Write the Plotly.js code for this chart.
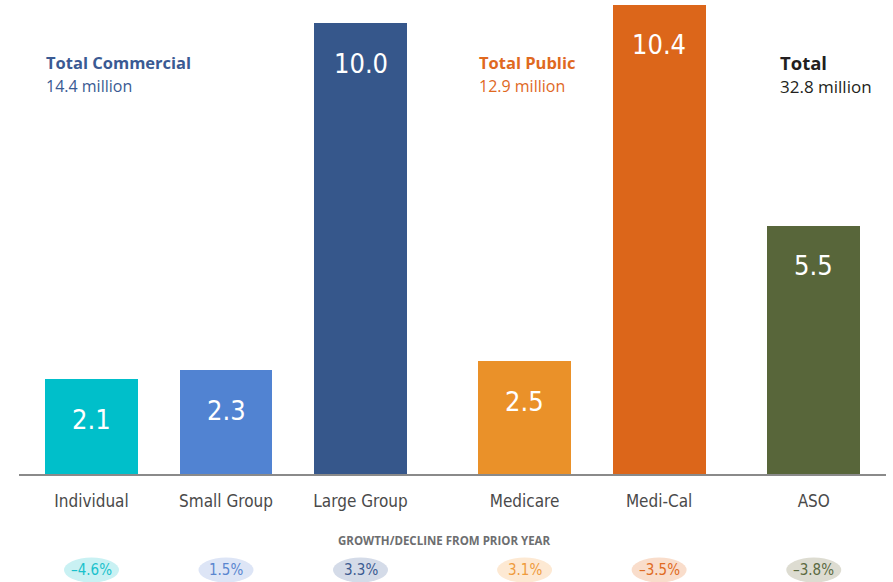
<!DOCTYPE html>
<html>
<head>
<meta charset="utf-8">
<script src="https://cdn.plot.ly/plotly-3.0.1.min.js"></script>
<style>html,body{margin:0;padding:0;background:#fff;}#chart{width:893px;height:582px;}</style>
</head>
<body>
<div id="chart"></div>
<script>
// ---- data ----
const categories = ["Individual", "Small Group", "Large Group", "Medicare", "Medi-Cal", "ASO"];
const enrollment = [2.1, 2.3, 10.0, 2.5, 10.4, 5.5];          // millions
const growth = [-4.6, 1.5, 3.3, 3.1, -3.5, -3.8];              // % change from prior year
const groupTitles = ["Total Commercial", "Total Public", "Total"];
const groupTotals = [14.4, 12.9, 32.8];                        // millions

// ---- layout / style ----
const slots = [0, 1, 2, 3.22, 4.22, 5.37];   // category placement with group gaps
const barColors = ["#00bfca", "#5183d2", "#36578b", "#ea9129", "#dc661a", "#58663a"];
const pillFill = ["#c9f1f3", "#dde5f6", "#d4dbe8", "#fde9d3", "#f9ddcb", "#dddcd1"];
const pillText = ["#1ac1cc", "#5a85cf", "#3a5a90", "#ef9b3c", "#e06a22", "#5b6a3f"];
const titleColors = ["#3a5a93", "#e0691f", "#231f20"];
const titleAnchor = [0, 3, 5];
const titleShift = [-1, -1, 11];
const barWidth = 0.691;
const narrow = "DejaVu Sans Condensed, Liberation Sans Narrow, sans-serif";

function fmtPct(v) { return (v < 0 ? "\u2013" + Math.abs(v).toFixed(1) : v.toFixed(1)) + "%"; }

const trace = {
  type: "bar",
  x: slots,
  y: enrollment,
  width: barWidth,
  marker: { color: barColors, line: { width: 0 } },
  hoverinfo: "skip"
};

const annotations = [];
// value labels inside bars
enrollment.forEach((v, i) => {
  annotations.push({
    x: slots[i], y: v, xref: "x", yref: "y",
    text: v.toFixed(1), showarrow: false,
    yanchor: "middle", yshift: -40,
    font: { family: narrow, size: 27, color: "#ffffff" }
  });
});
// growth pills text
growth.forEach((g, i) => {
  annotations.push({
    x: slots[i], y: 0, xref: "x", yref: "y",
    text: fmtPct(g), showarrow: false,
    yanchor: "middle", yshift: -96,
    font: { family: narrow, size: 15, color: pillText[i] }
  });
});
// group headers
groupTitles.forEach((t, k) => {
  const i = titleAnchor[k];
  const big = k === 2;
  annotations.push({
    x: slots[i] - barWidth / 2, y: 0.869, xref: "x", yref: "paper",
    xanchor: "left", yanchor: "middle", xshift: titleShift[k],
    text: t, showarrow: false,
    font: { family: "Open Sans, sans-serif", size: big ? 18.5 : 16.5, weight: 700, color: titleColors[k] }
  });
  annotations.push({
    x: slots[i] - barWidth / 2, y: 0.818, xref: "x", yref: "paper",
    xanchor: "left", yanchor: "middle", xshift: titleShift[k],
    text: groupTotals[k].toFixed(1) + " million", showarrow: false,
    font: { family: "Open Sans, sans-serif", size: big ? 17 : 16, color: titleColors[k] }
  });
});
// section heading
annotations.push({
  x: 0.491, y: 0, xref: "paper", yref: "y",
  text: "GROWTH/DECLINE FROM PRIOR YEAR", showarrow: false,
  yanchor: "middle", yshift: -66,
  font: { family: "Open Sans, sans-serif", size: 11.5, weight: 700, color: "#6d6e70" }
});

const shapes = growth.map((g, i) => ({
  type: "circle", xref: "x", yref: "paper",
  xsizemode: "pixel", ysizemode: "pixel",
  xanchor: slots[i], yanchor: 0,
  x0: -27.5, x1: 27.5, y0: -108.5, y1: -83.5,
  fillcolor: pillFill[i], line: { width: 0 }, layer: "below"
}));

const layout = {
  width: 893, height: 582,
  margin: { l: 19, r: 7, t: 0, b: 108, pad: 0 },
  paper_bgcolor: "#ffffff", plot_bgcolor: "#ffffff",
  showlegend: false,
  bargap: 0,
  xaxis: {
    range: [-0.539, 5.907],
    tickvals: slots, ticktext: categories,
    showline: true, linecolor: "#8a8a8a", linewidth: 2,
    ticks: "", showgrid: false, zeroline: false,
    ticklabelstandoff: 11,
    tickfont: { family: narrow, size: 17, color: "#4a4a4a" },
    fixedrange: true
  },
  yaxis: {
    range: [0, 10.51], visible: false, showgrid: false, zeroline: false, fixedrange: true
  },
  annotations: annotations,
  shapes: shapes
};

Plotly.newPlot("chart", [trace], layout, { displayModeBar: false, staticPlot: true });
</script>
</body>
</html>
